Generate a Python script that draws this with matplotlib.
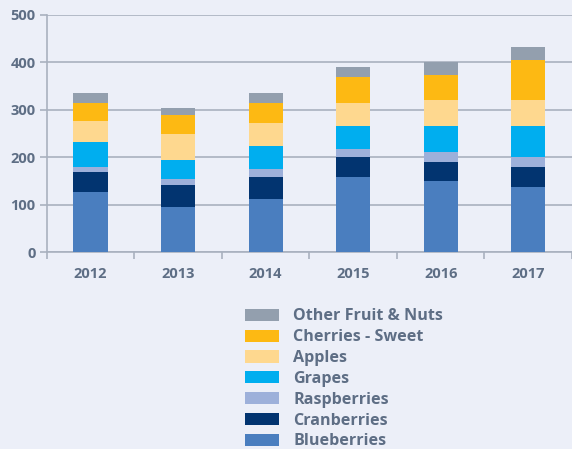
import numpy as np
import matplotlib.pyplot as plt

years = ['2012', '2013', '2014', '2015', '2016', '2017']
blueberries = [127, 94, 111, 159, 149, 137]
cranberries = [41, 48, 47, 42, 41, 43]
raspberries = [12, 11, 17, 17, 22, 21]
grapes = [53, 42, 48, 47, 53, 64]
apples = [44, 55, 49, 50, 55, 55]
cherries = [38, 38, 43, 54, 54, 86]
other = [21, 16, 21, 21, 27, 27]

series = [
    ('Blueberries', blueberries, '#4a7ebf'),
    ('Cranberries', cranberries, '#023470'),
    ('Raspberries', raspberries, '#9db0da'),
    ('Grapes', grapes, '#00aeef'),
    ('Apples', apples, '#fed88f'),
    ('Cherries - Sweet', cherries, '#fdb913'),
    ('Other Fruit & Nuts', other, '#939fae'),
]

bg = '#eceff8'
txt = '#5e6e85'
grid = '#a9b1bf'

plt.rcParams['font.family'] = 'Open Sans'
plt.rcParams['font.weight'] = 'bold'

fig = plt.figure(figsize=(5.72, 4.49), dpi=100, facecolor=bg)
ax = fig.add_axes([46.7 / 572, 1 - 252 / 449, (572 - 46.7) / 572, (252 - 15) / 449])
ax.set_facecolor(bg)

x = np.arange(len(years))
bottom = np.zeros(len(years))
handles = []
for name, vals, col in series:
    h = ax.bar(x, vals, 0.39, bottom=bottom, color=col, label=name, zorder=3)
    handles.append(h)
    bottom += np.array(vals)

ax.set_xlim(-0.5, 5.5)
ax.set_ylim(0, 500)
ax.set_yticks(range(0, 501, 100))
ax.yaxis.grid(True, color=grid, linewidth=1.2, zorder=0)
for s in ['top', 'right']:
    ax.spines[s].set_visible(False)
for s in ['left', 'bottom']:
    ax.spines[s].set_color(grid)
    ax.spines[s].set_linewidth(1.2)

ax.set_xticks(x)
ax.set_xticklabels(years)
ax.set_xticks(np.arange(-0.5, 5.6, 1), minor=True)
ax.tick_params(axis='x', which='major', length=0, pad=11, labelsize=10.5, labelcolor=txt)
ax.tick_params(axis='x', which='minor', length=5, color=grid, width=1.2)
ax.tick_params(axis='y', length=5, color=grid, width=1.2, labelsize=10.5, labelcolor=txt, pad=3)

leg = fig.legend(handles[::-1], [s[0] for s in series[::-1]],
                 loc='upper left', bbox_to_anchor=(239 / 572, 1 - 302 / 449),
                 frameon=False, handlelength=2.07, handleheight=0.78,
                 labelspacing=0.30, handletextpad=0.9, borderaxespad=0,
                 prop={'size': 11.6, 'weight': 'bold'})
for t in leg.get_texts():
    t.set_color(txt)

plt.savefig('out.png', dpi=100, facecolor=bg)
